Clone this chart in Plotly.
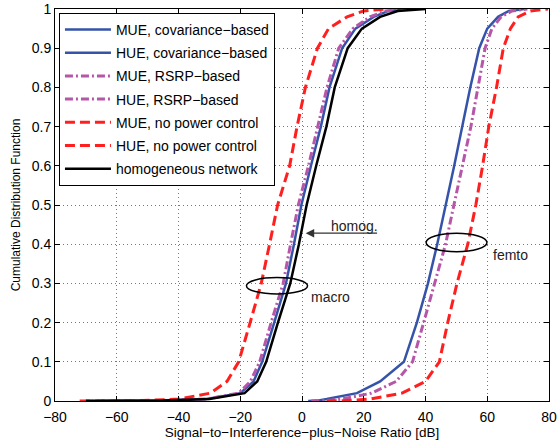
import plotly.graph_objects as go

# ---- data ----
cdf_levels = [0, 0.001, 0.005, 0.02, 0.05, 0.1, 0.2, 0.3, 0.4, 0.5, 0.6, 0.7, 0.8, 0.9, 0.95, 0.98, 0.995, 1]

mue_cov = [-70, -46, -31, -20.0, -15.7, -12.9, -9.0, -5.2, -2.6, -0.2, 2.9, 6.1, 8.9, 13.0, 17.3, 23.2, 28, 35]
hue_cov = [2, 5, 8, 17.8, 25.3, 33.0, 37.2, 40.8, 43.8, 46.6, 49.3, 51.9, 54.5, 57.4, 60.0, 63.5, 67, 72]
mue_rsrp = [-70, -46, -31, -20.5, -16.7, -13.7, -10.0, -6.1, -3.7, -1.2, 2.1, 5.0, 8.1, 11.9, 16.5, 22.0, 27, 34]
hue_rsrp = [3, 8, 13, 22.5, 30.5, 35.8, 39.4, 43.0, 46.5, 49.2, 52.0, 54.7, 57.0, 59.3, 61.5, 64.5, 68, 73]
mue_npc = [-72, -52, -40, -29.7, -24.3, -20.5, -16.8, -13.2, -10.5, -7.9, -4.0, -1.6, 1.1, 5.0, 8.6, 14.6, 20, 27]
hue_npc = [8, 14, 22, 32.4, 40.0, 44.5, 47.2, 50.2, 53.7, 56.3, 58.5, 60.5, 63.0, 65.2, 67.5, 70.0, 74, 79.7]
homog = [-70, -45, -30, -18.6, -14.5, -11.6, -7.8, -3.8, -1.0, 1.5, 4.6, 7.9, 10.6, 14.8, 19.4, 25.3, 31, 40]

series_names = [
    "MUE, covariance\u2212based",
    "HUE, covariance\u2212based",
    "MUE, RSRP\u2212based",
    "HUE, RSRP\u2212based",
    "MUE, no power control",
    "HUE, no power control",
    "homogeneous network",
]
series_values = [mue_cov, hue_cov, mue_rsrp, hue_rsrp, mue_npc, hue_npc, homog]

x_ticks = [-80, -60, -40, -20, 0, 20, 40, 60, 80]
y_ticks = [0, 0.1, 0.2, 0.3, 0.4, 0.5, 0.6, 0.7, 0.8, 0.9, 1]

# ---- styles ----
BLUE = "#3553a8"
MAG = "#b656a9"
RED = "#ff1f1f"
styles = [
    dict(color=BLUE, width=2.5, dash="solid"),
    dict(color=BLUE, width=2.5, dash="solid"),
    dict(color=MAG, width=3, dash="8px,3px,2px,3px"),
    dict(color=MAG, width=3, dash="8px,3px,2px,3px"),
    dict(color=RED, width=3, dash="10px,5px"),
    dict(color=RED, width=3, dash="10px,5px"),
    dict(color="black", width=2.5, dash="solid"),
]

FONT = "Liberation Sans, Arial, Helvetica, sans-serif"

fig = go.Figure()
for i, (name, vals) in enumerate(zip(series_names, series_values)):
    fig.add_trace(go.Scatter(
        x=vals, y=cdf_levels, mode="lines", name=name,
        line=styles[i], legendgroup=f"g{i}",
    ))

# ellipses & annotations
fig.add_shape(type="circle", xref="x", yref="y", x0=-18, x1=1.8, y0=0.273, y1=0.315,
              line=dict(color="black", width=1.5))
fig.add_shape(type="circle", xref="x", yref="y", x0=40.2, x1=59.9, y0=0.381, y1=0.428,
              line=dict(color="black", width=1.5))
fig.add_annotation(x=9.2, y=0.266, text="macro", showarrow=False, xref="x", yref="y",
                   font=dict(size=14, color="#222", family=FONT))
fig.add_annotation(x=67.4, y=0.372, text="femto", showarrow=False, xref="x", yref="y",
                   font=dict(size=14, color="#222", family=FONT))
fig.add_annotation(x=16.9, y=0.447, text="homog.", showarrow=False, xref="x", yref="y",
                   font=dict(size=14, color="#222", family=FONT))
fig.add_annotation(x=1.2, y=0.428, ax=24.8, ay=0.428, axref="x", ayref="y", xref="x", yref="y",
                   text="", showarrow=True, arrowhead=2, arrowsize=1.3, arrowwidth=1.3,
                   arrowcolor="#333")

axis_common = dict(
    showline=True, linecolor="black", linewidth=1, mirror="allticks",
    ticks="inside", ticklen=5, tickcolor="black", tickwidth=1,
    showgrid=True, gridcolor="#777", griddash="1px,3px", gridwidth=1,
    zeroline=False, tickfont=dict(size=14, color="black", family=FONT),
    automargin=False,
)

fig.update_xaxes(range=[-80, 80], tickvals=x_ticks, ticklabelstandoff=3,
                 title=dict(text="Signal\u2212to\u2212Interference\u2212plus\u2212Noise Ratio [dB]",
                            font=dict(size=13.5, color="black", family=FONT), standoff=3),
                 **axis_common)
fig.update_yaxes(range=[0, 1], tickvals=y_ticks,
                 title=dict(text="Cumulative Distribution Function",
                            font=dict(size=12, color="black", family=FONT), standoff=8),
                 **axis_common)

fig.update_layout(
    width=558, height=442,
    margin=dict(l=55, r=9, t=9, b=41),
    paper_bgcolor="white", plot_bgcolor="white",
    font=dict(family=FONT, color="black"),
    legend=dict(x=0.008, y=0.99, xanchor="left", yanchor="top",
                bgcolor="white", bordercolor="black", borderwidth=1,
                font=dict(size=14, color="black", family=FONT),
                tracegroupgap=2, traceorder="grouped", itemwidth=46),
    showlegend=True,
)

fig.write_html("out.html", config={"displayModeBar": False},
               post_script="document.body.style.margin='0';document.body.style.overflow='hidden';")
